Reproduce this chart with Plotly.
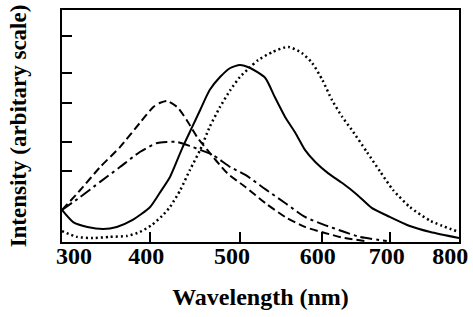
import plotly.graph_objects as go

# Wavelength (nm) positions and intensities
solid_x = [300, 314, 332, 352, 369, 389, 411, 423, 436, 452, 464, 474, 486, 499, 512, 524, 537,
           556, 568, 581, 594, 606, 619, 635, 653, 672, 690, 713, 738, 764, 800]
solid_y = [13.8, 8.6, 6.5, 5.6, 6.5, 9.5, 15.1, 21.1, 28.0, 40.9, 49.6, 56.9, 65.5, 71.1, 75.0, 76.3, 75.0,
           70.7, 62.5, 53.9, 47.0, 39.7, 34.5, 29.7, 25.4, 20.3, 14.7, 10.8, 6.9, 4.3, 1.7]

dotted_x = [300, 319, 339, 360, 382, 398, 413, 426, 436, 449, 461, 474, 486, 499, 512, 524, 537, 547,
            565, 585, 602, 615, 628, 640, 653, 665, 684, 701, 717, 738, 764, 800]
dotted_y = [4.7, 2.2, 1.7, 2.2, 2.6, 4.3, 7.3, 11.2, 15.1, 22.4, 31.0, 39.7, 49.6, 58.2, 65.5, 71.1, 75.4, 78.4,
            81.9, 84.1, 81.5, 77.2, 69.8, 61.2, 53.9, 48.3, 38.8, 30.2, 22.4, 15.1, 9.1, 4.3]

dashed_x = [300, 323, 348, 373, 398, 415, 423, 432, 445, 457, 470, 483, 508, 531, 556, 581, 606, 631, 656, 682]
dashed_y = [13.8, 22.4, 32.3, 40.9, 51.3, 58.2, 59.9, 60.8, 58.2, 52.6, 45.3, 39.7, 29.7, 23.7, 16.8, 10.8,
            6.5, 3.9, 1.7, 0.4]

dashdot_x = [300, 323, 348, 373, 398, 420, 432, 445, 461, 474, 490, 512, 531, 556, 581, 606, 631, 656, 675, 709]
dashdot_y = [13.8, 19.4, 25.9, 32.3, 38.8, 42.7, 43.1, 43.1, 41.4, 39.7, 37.5, 32.3, 28.9, 22.8, 16.8, 10.8,
             7.3, 4.3, 2.2, 0.4]

# tick marks (as drawn in the figure) and where their labels sit
x_tick_vals = [300, 411, 524, 628, 713, 800]
x_label_vals = [315, 406, 514, 622, 709, 789]
x_tick_text = ["300", "400", "500", "600", "700", "800"]
y_tick_vals = [30.6, 43.1, 59.9, 72.8, 88.8]

FONT = "Liberation Serif"

fig = go.Figure()
fig.add_trace(go.Scatter(x=solid_x, y=solid_y, mode="lines", line=dict(color="black", width=2, shape="spline", smoothing=0.6)))
fig.add_trace(go.Scatter(x=dotted_x, y=dotted_y, mode="lines", line=dict(color="black", width=2.5, dash="2px,3px", shape="spline", smoothing=0.6)))
fig.add_trace(go.Scatter(x=dashed_x, y=dashed_y, mode="lines", line=dict(color="black", width=2, dash="8px,4px", shape="spline", smoothing=0.6)))
fig.add_trace(go.Scatter(x=dashdot_x, y=dashdot_y, mode="lines", line=dict(color="black", width=2, dash="12px,4px,3px,4px", shape="spline", smoothing=0.6)))
# invisible trace to activate the label axis
fig.add_trace(go.Scatter(x=[300, 800], y=[None, None], xaxis="x2", mode="lines", hoverinfo="skip", showlegend=False))

fig.update_layout(
    width=473, height=317,
    margin=dict(l=62, r=14, t=10, b=75),
    paper_bgcolor="white", plot_bgcolor="white",
    showlegend=False,
    font=dict(family=FONT, color="black"),
    xaxis=dict(
        range=[300, 800], showgrid=False, zeroline=False, automargin=False,
        showline=True, linecolor="black", linewidth=2, mirror=True,
        ticks="inside", ticklen=10, tickwidth=2, tickcolor="black",
        tickvals=x_tick_vals, showticklabels=False,
        title=dict(text="Wavelength (nm)", font=dict(family=FONT, size=24, weight="bold", color="black"), standoff=45),
    ),
    xaxis2=dict(
        range=[300, 800], overlaying="x", anchor="y", side="bottom",
        showgrid=False, zeroline=False, showline=False, automargin=False, ticks="",
        tickvals=x_label_vals, ticktext=x_tick_text, ticklabeloverflow="allow",
        ticklabelstandoff=-3,
        tickfont=dict(family=FONT, size=24, weight="bold", color="black"),
    ),
    yaxis=dict(
        range=[0, 100], showgrid=False, zeroline=False, automargin=False,
        showline=True, linecolor="black", linewidth=2, mirror=True,
        ticks="inside", ticklen=10, tickwidth=2, tickcolor="black",
        tickvals=y_tick_vals, showticklabels=False,
        title=dict(text="Intensity (arbitary scale)", font=dict(family=FONT, size=23, weight="bold", color="black"), standoff=27),
    ),
)

fig.write_html("out.html", config={"displayModeBar": False},
               post_script="document.body.style.margin='0';")
